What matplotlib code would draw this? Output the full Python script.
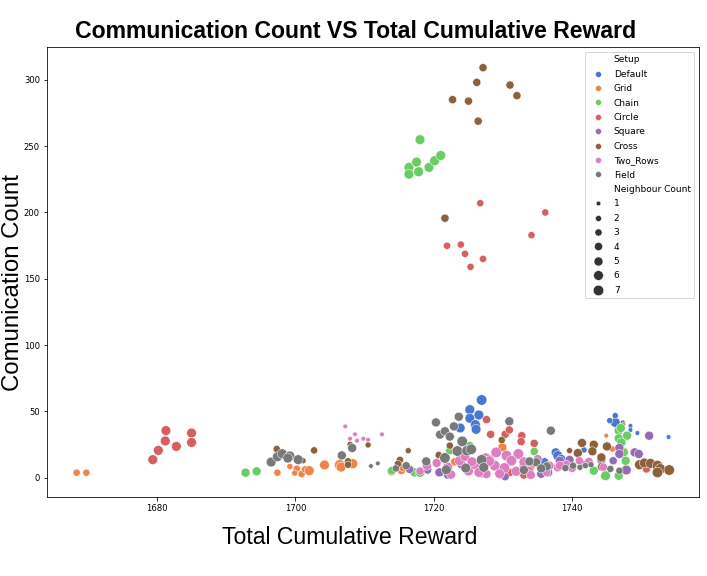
import pandas as pd
import matplotlib
matplotlib.use("Agg")
import matplotlib.pyplot as plt
import seaborn as sns

setups = ["Default", "Grid", "Chain", "Circle", "Square", "Cross", "Two_Rows", "Field"]

# Default
default_x = [1726.9, 1725.2, 1726.5, 1725.2, 1726.0, 1726.1, 1723.8, 1737.6, 1737.9, 1738.4,
             1746.2, 1746.2, 1745.4, 1747.3, 1748.4, 1748.4, 1749.4, 1753.9, 1741.7, 1733.5,
             1730.0, 1736.0]
default_y = [58.6, 51.3, 47.3, 44.8, 40.0, 36.5, 37.5, 19.1, 16.6, 14.1,
             41.7, 46.8, 43.0, 41.7, 39.0, 36.0, 33.7, 30.7, 20.9, 3.5,
             6.0, 12.0]
default_n = [7, 6, 6, 6, 6, 6, 6, 5, 6, 5, 6, 2, 2, 1, 1, 1, 1, 1, 2, 4, 4, 4]

# Grid
grid_x = [1668.4, 1669.8, 1697.4, 1699.2, 1700.2, 1699.9, 1700.9, 1701.4, 1702.0, 1704.2,
          1706.4, 1706.6, 1708.3, 1713.9, 1715.3, 1715.5, 1729.9, 1744.9, 1747.4, 1747.6,
          1745.8, 1734.0, 1723.0]
grid_y = [3.8, 3.8, 3.8, 8.5, 6.8, 3.5, 2.8, 6.3, 5.3, 9.6,
          9.6, 8.0, 10.6, 4.8, 5.8, 7.8, 22.9, 31.7, 40.0, 20.4,
          21.6, 8.0, 12.0]
grid_n = [3, 3, 3, 2, 3, 2, 3, 3, 6, 6, 7, 6, 6, 5, 5, 4, 5, 1, 1, 2, 2, 4, 4]

# Chain
chain_x = [1692.8, 1694.4, 1718.0, 1716.4, 1717.5, 1716.4, 1717.8, 1719.3, 1720.1, 1721.0,
           1713.9, 1717.2, 1718.0, 1722.3, 1725.2, 1734.5, 1746.7, 1747.0, 1747.9, 1746.7,
           1747.1, 1747.7, 1744.8, 1746.7, 1743.1, 1747.5]
chain_y = [3.8, 4.8, 254.9, 234.0, 238.0, 228.9, 230.7, 234.0, 239.0, 243.0,
           5.3, 4.0, 4.0, 20.4, 24.2, 19.8, 35.5, 37.5, 31.7, 29.7,
           26.6, 12.8, 1.5, 1.5, 5.3, 19.1]
chain_n = [5, 5, 6, 6, 6, 6, 6, 6, 6, 6, 4, 5, 6, 4, 4, 4, 5, 5, 5, 5, 5, 5, 6, 5, 5, 4]

# Circle
circle_x = [1679.4, 1680.2, 1681.2, 1681.3, 1682.8, 1685.0, 1685.0, 1726.7, 1736.1, 1734.1,
            1721.9, 1723.9, 1724.5, 1727.1, 1725.3, 1727.6, 1728.2, 1730.3, 1730.9, 1732.7,
            1734.5, 1732.6, 1750.7, 1731.0, 1733.0]
circle_y = [13.6, 20.6, 27.7, 35.5, 23.6, 33.7, 26.6, 207.0, 200.0, 182.9,
            174.9, 175.8, 168.8, 165.0, 159.0, 43.8, 32.7, 32.7, 36.0, 31.7,
            25.9, 27.2, 6.6, 4.0, 2.0]
circle_n = [6, 6, 6, 6, 6, 6, 6, 3, 3, 3, 3, 3, 3, 3, 3, 4, 4, 4, 4, 4, 4, 4, 4, 4, 4]

# Square
square_x = [1716.5, 1719.1, 1720.8, 1730.3, 1736.5, 1738.2, 1739.6, 1744.2, 1746.8, 1746.8,
            1751.1, 1749.0, 1749.6, 1747.8, 1745.9, 1724.0, 1727.0, 1733.0, 1735.5, 1741.5,
            1728.0, 1722.0]
square_y = [6.3, 5.8, 4.0, 0.8, 4.0, 12.8, 13.4, 13.4, 22.4, 17.9,
            31.7, 19.1, 17.9, 5.8, 12.8, 10.0, 3.0, 9.0, 3.0, 10.0,
            14.0, 2.0]
square_n = [4, 4, 5, 4, 5, 5, 5, 5, 5, 5, 5, 5, 5, 6, 4, 5, 4, 5, 5, 4, 5, 4]

# Cross
cross_x = [1727.1, 1726.2, 1731.0, 1732.0, 1722.7, 1725.0, 1726.4, 1721.6, 1697.3, 1702.7,
           1701.1, 1707.9, 1710.5, 1707.6, 1707.6, 1741.4, 1743.1, 1745.0, 1740.8, 1742.9,
           1744.2, 1744.3, 1749.7, 1750.4, 1751.3, 1752.3, 1752.7, 1754.0, 1752.3, 1739.6,
           1716.3, 1715.1, 1714.8, 1720.7, 1722.3, 1729.8]
cross_y = [309.2, 298.1, 296.1, 288.1, 285.1, 284.0, 268.9, 195.7, 21.6, 20.6,
           12.8, 25.1, 24.7, 12.3, 9.8, 26.2, 24.9, 23.6, 18.6, 19.9,
           15.3, 8.3, 9.8, 11.1, 10.8, 9.1, 6.6, 5.8, 4.0, 20.4,
           20.4, 13.4, 10.3, 17.1, 24.2, 28.4]
cross_n = [4, 4, 4, 4, 4, 4, 4, 4, 3, 3, 2, 2, 2, 3, 3, 5, 5, 5, 5, 5,
           5, 5, 6, 6, 6, 7, 7, 7, 7, 2, 2, 3, 3, 3, 3, 3]

# Two_Rows
two_rows_x = [1707.2, 1708.6, 1707.9, 1708.9, 1709.8, 1710.5, 1712.5, 1720.4, 1722.0, 1723.7,
              1725.0, 1726.0, 1727.5, 1728.8, 1729.0, 1730.5, 1732.2, 1731.2, 1730.2, 1727.6,
              1722.5, 1731.9, 1733.8, 1737.9, 1739.1, 1742.5, 1741.0, 1736.7, 1738.2, 1742.4,
              1736.3, 1719.0, 1718.0, 1724.5, 1726.5, 1729.5, 1733.0, 1735.0, 1728.0, 1725.5,
              1721.5, 1734.0, 1740.0, 1744.5]
two_rows_y = [38.7, 32.7, 29.4, 27.9, 29.4, 28.7, 32.7, 11.1, 8.0, 12.8,
              5.0, 10.0, 15.0, 9.1, 19.1, 16.6, 17.9, 12.8, 7.3, 2.8,
              2.3, 4.8, 5.3, 7.8, 9.8, 11.6, 12.8, 9.1, 9.1, 12.3,
              4.0, 9.0, 5.0, 16.0, 4.0, 3.0, 12.0, 14.0, 12.5, 12.0,
              14.0, 2.0, 7.0, 8.0]
two_rows_n = [1, 1, 1, 1, 1, 1, 1, 5, 6, 6, 6, 7, 6, 7, 7, 7, 7, 7, 7, 5,
              5, 6, 5, 5, 5, 4, 4, 5, 5, 4, 4, 5, 4, 6, 6, 6, 6, 5, 7, 6,
              5, 5, 4, 4]

# Field
field_x = [1696.5, 1697.4, 1698.1, 1699.2, 1700.4, 1698.9, 1706.7, 1708.2, 1710.9, 1711.9,
           1720.3, 1723.6, 1722.9, 1720.9, 1721.6, 1722.3, 1724.1, 1730.9, 1736.9, 1723.4,
           1724.8, 1725.4, 1721.6, 1726.9, 1721.8, 1724.6, 1727.2, 1733.0, 1734.8, 1733.8,
           1736.3, 1718.9, 1735.5, 1745.5, 1746.8, 1739.0, 1740.1, 1741.1, 1741.9, 1742.7,
           1716.0, 1714.5]
field_y = [11.8, 15.8, 18.1, 16.4, 13.6, 14.8, 16.8, 22.4, 8.8, 10.8,
           41.7, 46.0, 38.7, 32.5, 35.0, 31.0, 27.4, 42.5, 35.5, 20.1,
           20.4, 21.4, 14.9, 13.4, 6.0, 7.3, 7.8, 5.8, 11.6, 12.3,
           8.5, 12.3, 7.0, 6.6, 5.3, 7.3, 9.1, 7.8, 9.1, 9.8,
           9.0, 7.0]
field_n = [6, 6, 6, 6, 6, 6, 5, 5, 1, 1, 5, 5, 5, 5, 5, 5, 7, 5, 5, 7,
           7, 7, 7, 7, 6, 6, 6, 5, 5, 5, 5, 5, 5, 3, 3, 3, 3, 2, 2, 2,
           4, 3]

columns = {
    "Default": (default_x, default_y, default_n),
    "Grid": (grid_x, grid_y, grid_n),
    "Chain": (chain_x, chain_y, chain_n),
    "Circle": (circle_x, circle_y, circle_n),
    "Square": (square_x, square_y, square_n),
    "Cross": (cross_x, cross_y, cross_n),
    "Two_Rows": (two_rows_x, two_rows_y, two_rows_n),
    "Field": (field_x, field_y, field_n),
}

frames = []
for name in setups:
    xs, ys, ns = columns[name]
    frames.append(pd.DataFrame({"Total Cumulative Reward": xs,
                                "Comunication Count": ys,
                                "Neighbour Count": ns,
                                "Setup": name}))
df = pd.concat(frames, ignore_index=True)

fig = plt.figure(figsize=(707 / 72, 576 / 72), dpi=72)
ax = fig.add_axes([0.0665, 0.137, 0.922, 0.781])

sns.scatterplot(data=df, x="Total Cumulative Reward", y="Comunication Count",
                hue="Setup", hue_order=setups, size="Neighbour Count",
                sizes=(22, 110), palette="muted", legend="full", ax=ax)

# title and axis labels sit a bit left of the axes centre in the reference
fig.text(356 / 707, 1 - 31 / 576, "Communication Count VS Total Cumulative Reward",
         fontsize=23, fontweight="bold", family="Liberation Sans",
         ha="center", va="center")
ax.set_xlabel("")
ax.set_ylabel("")
fig.text(350 / 707, 1 - 538 / 576, "Total Cumulative Reward",
         fontsize=23, family="Liberation Sans", ha="center", va="center")
fig.text(13 / 707, 1 - 283 / 576, "Comunication Count", rotation=90,
         fontsize=24, family="Liberation Sans", ha="center", va="center")

ax.set_xticks([1680, 1700, 1720, 1740])
ax.tick_params(labelsize=8.5)
ax.legend(loc="upper right", fontsize=9, labelspacing=0.6)

fig.savefig("out.png", dpi=72)
